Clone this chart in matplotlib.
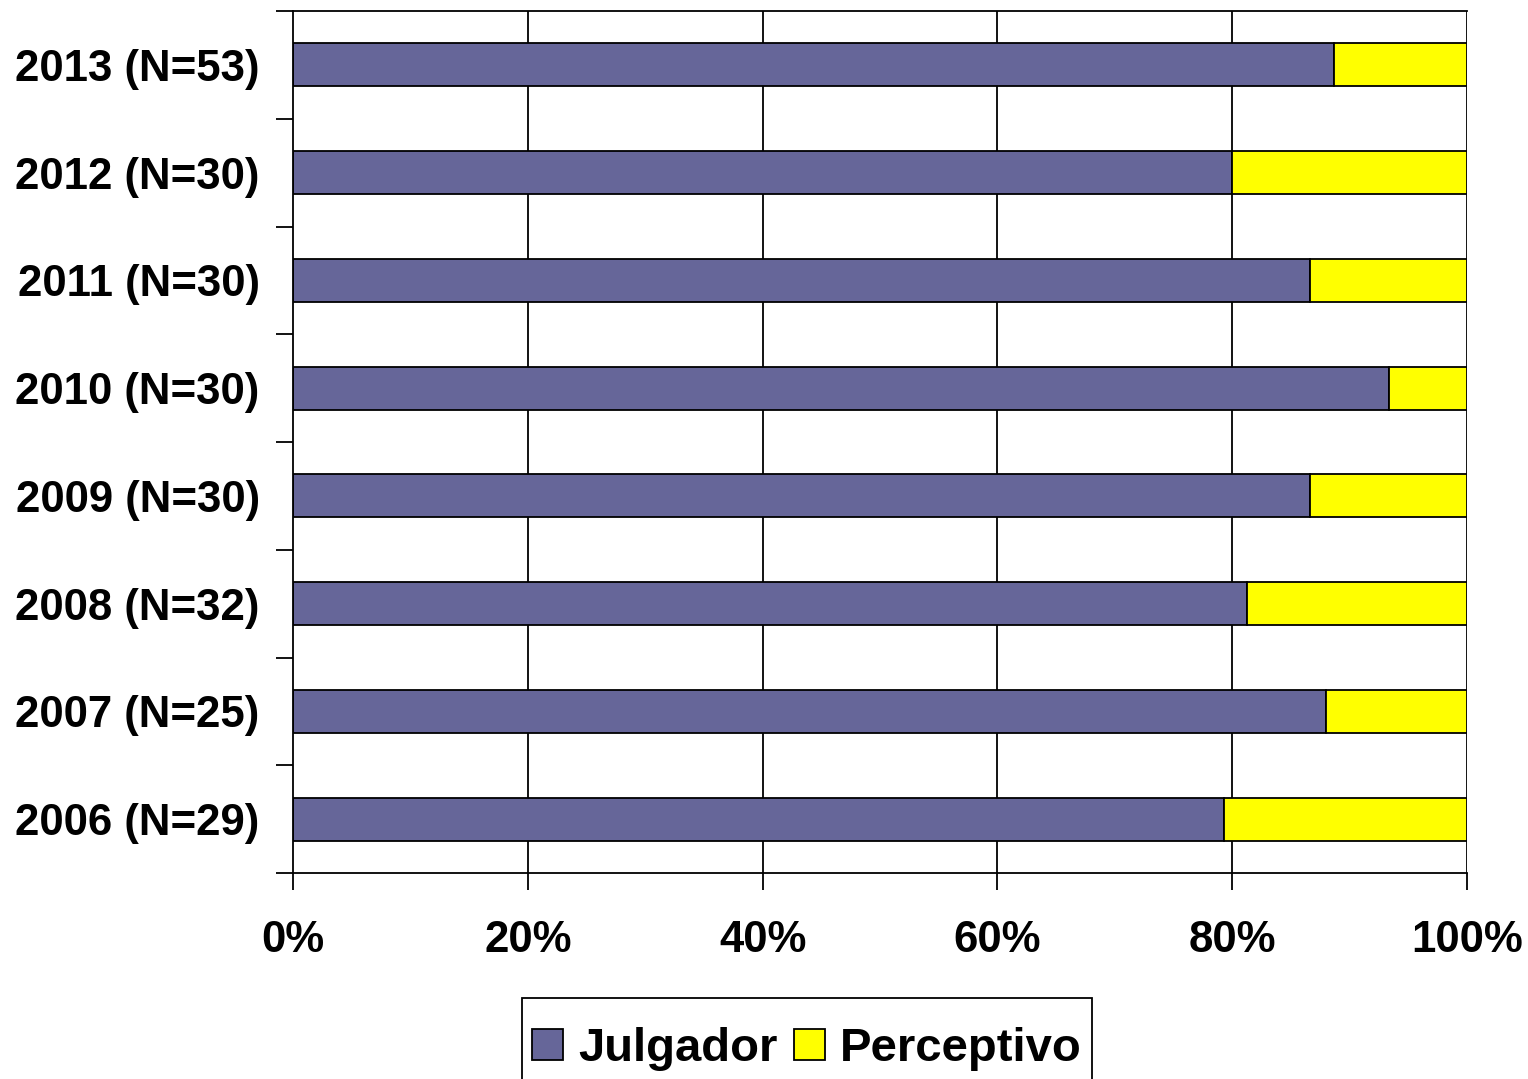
# 100% stacked bars: Julgador vs Perceptivo per year

import matplotlib
matplotlib.use("Agg")

import matplotlib.pyplot as plt
import numpy as np
from matplotlib.ticker import FixedLocator, NullFormatter

years = ["2006", "2007", "2008", "2009", "2010", "2011", "2012", "2013"]
totals = [29, 25, 32, 30, 30, 30, 30, 53]
julgador = [23, 22, 26, 26, 28, 26, 24, 47]

plt.rcParams["font.family"] = ["Liberation Sans", "DejaVu Sans"]
plt.rcParams["font.weight"] = "bold"

tot = np.array(totals, dtype=float)
jPct = np.array(julgador) / tot * 100
pPct = 100 - jPct
labels = [y + " (N=" + str(n) + ")" for y, n in zip(years, totals)]
pos = np.arange(len(years))

fig = plt.figure(figsize=(15.28, 10.79), dpi=100)
ax = fig.add_axes([293 / 1528, 1 - 873 / 1079, 1174 / 1528, 862 / 1079])

for x in range(20, 101, 20):
    ax.axvline(x, color="black", linewidth=1.3, zorder=0)

ax.barh(pos, jPct, height=0.4, color="#666699", edgecolor="black",
        linewidth=1.3, label="Julgador", zorder=2)
ax.barh(pos, pPct, left=jPct, height=0.4, color="#FFFF00", edgecolor="black",
        linewidth=1.3, label="Perceptivo", zorder=2)

ax.set_xlim(0, 100)
ax.set_ylim(-0.5, len(years) - 0.5)
ax.set_xticks(range(0, 101, 20))
ax.set_xticklabels([str(v) + "%" for v in range(0, 101, 20)])
ax.set_yticks(pos)
ax.set_yticklabels(labels)
ax.yaxis.set_minor_locator(FixedLocator(np.arange(-0.5, len(years), 1.0)))
ax.yaxis.set_minor_formatter(NullFormatter())
ax.tick_params(axis="y", which="major", length=0, pad=24, labelsize=31.5)
ax.tick_params(axis="y", which="minor", length=12, width=1.3, direction="out")
ax.tick_params(axis="x", length=12, width=1.3, pad=22, labelsize=31.5)

for side in ["left", "bottom", "top"]:
    ax.spines[side].set_linewidth(1.3)
ax.spines["right"].set_visible(False)

# tiny blank title pushes the entries down inside the frame, like the original
leg = fig.legend(loc="upper center", bbox_to_anchor=(807 / 1528, 1 - 998 / 1079),
                 ncol=2, fontsize=34, frameon=True, fancybox=False,
                 framealpha=1, edgecolor="black", handlelength=0.66,
                 handleheight=0.66, handletextpad=0.32, columnspacing=0.35,
                 borderpad=0.22, labelspacing=0.1, borderaxespad=0,
                 title=" ", title_fontsize=10)
leg.get_frame().set_linewidth(1.3)

fig.savefig("out.png", dpi=100)
plt.close(fig)
